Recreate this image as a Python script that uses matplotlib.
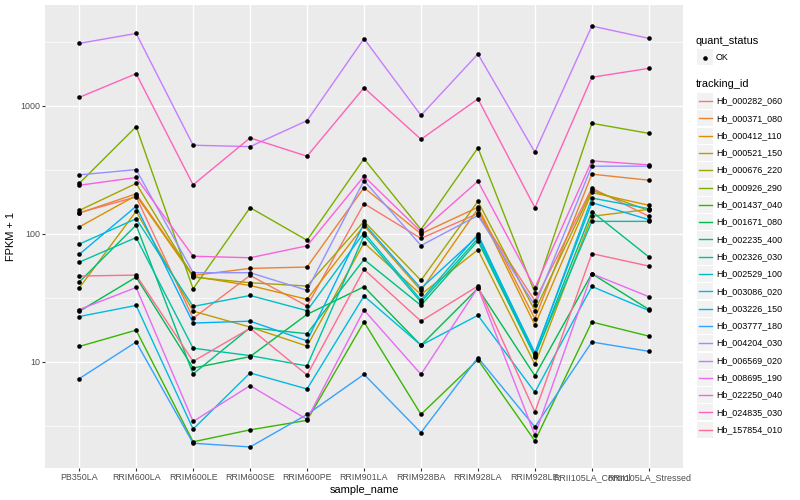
import numpy as np
import matplotlib
matplotlib.use("Agg")
import matplotlib.pyplot as plt
from matplotlib.patches import Rectangle
from matplotlib.lines import Line2D

plt.rcParams['font.family'] = ['Liberation Sans', 'DejaVu Sans']

# --- данные (FPKM + 1) ---
samples = ['PB350LA', 'RRIM600LA', 'RRIM600LE', 'RRIM600SE', 'RRIM600PE', 'RRIM901LA',
           'RRIM928BA', 'RRIM928LA', 'RRIM928LE', 'RRII105LA_Control', 'RRII105LA_Stressed']

tracking_ids = ['Hb_000282_060', 'Hb_000371_080', 'Hb_000412_110', 'Hb_000521_150',
                'Hb_000676_220', 'Hb_000926_290', 'Hb_001437_040', 'Hb_001671_080',
                'Hb_002235_400', 'Hb_002326_030', 'Hb_002529_100', 'Hb_003086_020',
                'Hb_003226_150', 'Hb_003777_180', 'Hb_004204_030', 'Hb_006569_020',
                'Hb_008695_190', 'Hb_022250_040', 'Hb_024835_030', 'Hb_157854_010']

hb_000282_060 = [146, 194, 21.9, 47.3, 27.3, 172, 92, 144, 30, 227, 137]
hb_000371_080 = [145, 205, 47.3, 53.7, 55, 229, 100, 161, 21.8, 292, 262]
hb_000412_110 = [113, 199, 46.5, 39.5, 30.8, 116, 36.1, 157, 19.4, 210, 167]
hb_000521_150 = [37.7, 150, 24.9, 18.7, 13.3, 85, 33.6, 75, 9.6, 137, 155]
hb_000676_220 = [152, 247, 45.9, 41.5, 39.1, 125, 43.3, 179, 25.1, 219, 152]
hb_000926_290 = [247, 685, 37.2, 160, 89, 385, 108, 468, 34.7, 728, 608]
hb_001437_040 = [13.2, 17.7, 2.38, 2.95, 3.5, 20.5, 3.9, 10.4, 2.42, 20.5, 15.9]
hb_001671_080 = [24.8, 45.9, 8.96, 11.0, 23.5, 38.6, 13.5, 37.5, 7.8, 48.8, 25.7]
hb_002235_400 = [42, 117, 8.05, 18.5, 16.6, 63, 27.6, 88, 11.0, 149, 66]
hb_002326_030 = [60, 93.5, 12.8, 11.2, 9.3, 97, 29.3, 92, 11.2, 125, 125]
hb_002529_100 = [83, 131, 27.1, 33.0, 25.1, 102, 30.4, 99, 11.5, 190, 157]
hb_003086_020 = [22.6, 27.6, 2.99, 8.2, 6.15, 32.7, 13.5, 23.1, 5.8, 38.8, 25.2]
hb_003226_150 = [69, 164, 20.1, 20.8, 14.6, 120, 37.5, 96, 11.8, 175, 129]
hb_003777_180 = [7.4, 14.3, 2.32, 2.17, 3.89, 8.0, 2.81, 10.8, 3.11, 14.3, 12.1]
hb_004204_030 = [288, 317, 49.7, 49.7, 36.2, 260, 81, 139, 27.6, 337, 337]
hb_006569_020 = [3060, 3660, 491, 479, 764, 3330, 840, 2530, 433, 4180, 3350]
hb_008695_190 = [25.6, 38.1, 3.43, 6.53, 3.56, 25.4, 8.0, 38, 2.68, 48.8, 32.3]
hb_022250_040 = [239, 275, 66.8, 65, 80.5, 281, 104, 257, 37.9, 371, 345]
hb_024835_030 = [1160, 1775, 241, 560, 403, 1380, 546, 1128, 160, 1665, 1955]
hb_157854_010 = [46.8, 47.6, 10.1, 18.3, 7.9, 52.7, 20.8, 39.1, 4.07, 70, 56]

series = [hb_000282_060, hb_000371_080, hb_000412_110, hb_000521_150, hb_000676_220,
          hb_000926_290, hb_001437_040, hb_001671_080, hb_002235_400, hb_002326_030,
          hb_002529_100, hb_003086_020, hb_003226_150, hb_003777_180, hb_004204_030,
          hb_006569_020, hb_008695_190, hb_022250_040, hb_024835_030, hb_157854_010]

# палитра ggplot hue_pal()(20)
colors = ['#F8766D', '#EA8331', '#D89000', '#C09B00', '#A3A500', '#7CAE00', '#39B600',
          '#00BB4E', '#00BF7D', '#00C1A3', '#00BFC4', '#00BAE0', '#00B0F6', '#35A2FF',
          '#9590FF', '#C77CFF', '#E76BF3', '#FA62DB', '#FF62BC', '#FF6C91']

W, H = 800, 500
fig = plt.figure(figsize=(W / 100, H / 100), dpi=100)
fig.patch.set_facecolor('white')

def fx(px):
    return px / W

def fy(py):
    return 1 - py / H

ax = fig.add_axes([fx(45), fy(468), fx(683) - fx(45), fy(5) - fy(468)])
ax.set_facecolor('#EBEBEB')
for s in ax.spines.values():
    s.set_visible(False)

xs = np.arange(len(samples))
ax.set_yscale('log')

# линии, потом точки (как в ggplot)
for vals, c in zip(series, colors):
    ax.plot(xs, vals, color=c, lw=1.0, zorder=3, solid_capstyle='butt')
for vals in series:
    ax.plot(xs, vals, 'o', color='black', ms=3.3, mew=0, zorder=4)

# пределы с расширением 5% в лог-пространстве
allv = np.concatenate([np.array(v, dtype=float) for v in series])
lo, hi = np.log10(allv.min()), np.log10(allv.max())
pad = (hi - lo) * 0.05
ax.set_ylim(10 ** (lo - pad), 10 ** (hi + pad))
ax.set_xlim(-0.6, len(samples) - 0.4)

# сетка
major = [10, 100, 1000]
minor = [10 ** 0.5, 10 ** 1.5, 10 ** 2.5, 10 ** 3.5]
for m in minor:
    ax.axhline(m, color='white', lw=0.5, zorder=1)
for m in major:
    ax.axhline(m, color='white', lw=1.0, zorder=1)
for x in xs:
    ax.axvline(x, color='white', lw=1.0, zorder=1)

ax.set_yticks(major)
ax.set_yticklabels(['10', '100', '1000'])
ax.yaxis.set_minor_locator(matplotlib.ticker.NullLocator())
ax.set_xticks(xs)
ax.set_xticklabels(samples)
ax.tick_params(axis='both', length=2.0, width=0.8, color='#333333',
               labelcolor='#4D4D4D', labelsize=6.4, pad=1.5)

ax.set_xlabel('sample_name', fontsize=7.9, color='black', labelpad=2)
ax.set_ylabel('FPKM + 1', fontsize=7.9, color='black', labelpad=3)

# легенда вручную
fig.text(fx(696), fy(41), 'quant_status', fontsize=7.9, va='center', ha='left')
fig.patches.append(Rectangle((fx(697), fy(65)), fx(16), 16 / H, transform=fig.transFigure,
                             facecolor='#F2F2F2', edgecolor='none'))
fig.lines.append(Line2D([fx(705)], [fy(57.5)], marker='o', color='black', ms=3.3, mew=0,
                        transform=fig.transFigure))
fig.text(fx(716), fy(57.5), 'OK', fontsize=6.4, va='center', ha='left')

fig.text(fx(696), fy(84), 'tracking_id', fontsize=7.9, va='center', ha='left')
step = 17.3
for i, (tid, c) in enumerate(zip(tracking_ids, colors)):
    yc = 101 + i * step
    fig.patches.append(Rectangle((fx(697), fy(yc + 8)), fx(16), 16 / H,
                                 transform=fig.transFigure, facecolor='#F2F2F2',
                                 edgecolor='none'))
    fig.lines.append(Line2D([fx(698.5), fx(711.5)], [fy(yc), fy(yc)], color=c, lw=1.0,
                            transform=fig.transFigure))
    fig.text(fx(716.5), fy(yc), tid, fontsize=6.4, va='center', ha='left')

fig.savefig('out.png', dpi=100)
